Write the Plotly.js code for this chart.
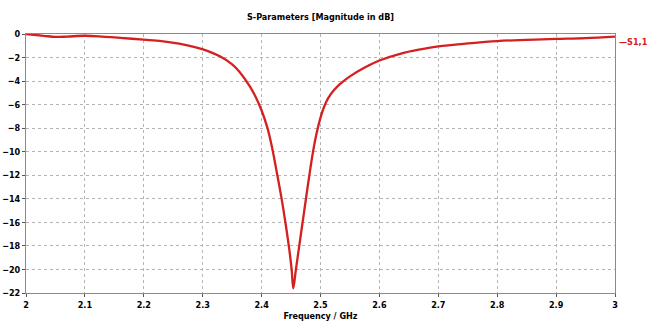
<!DOCTYPE html>
<html>
<head>
<meta charset="utf-8">
<script src="https://cdn.plot.ly/plotly-3.0.1.min.js"></script>
<style>html,body{margin:0;padding:0;background:#fff;}#chart{width:648px;height:325px;}</style>
</head>
<body>
<div id="chart"></div>
<script>
const freqGHz = [2.00,2.03,2.05,2.07,2.10,2.13,2.16,2.20,2.23,2.26,2.29,2.31,2.33,2.35,2.363,2.38,2.39,2.40,2.41,2.418,2.426,2.434,2.441,2.447,2.451,2.4538,2.458,2.4635,2.469,2.475,2.479,2.483,2.487,2.492,2.50,2.506,2.513,2.523,2.533,2.55,2.575,2.60,2.635,2.67,2.70,2.75,2.80,2.85,2.90,2.95,3.00];
const s11dB = [0,-0.15,-0.25,-0.22,-0.15,-0.22,-0.33,-0.48,-0.6,-0.82,-1.15,-1.47,-1.92,-2.58,-3.25,-4.45,-5.35,-6.5,-8.0,-9.7,-11.8,-14.0,-16.2,-18.3,-20.0,-21.6,-20.1,-18.15,-16.2,-14.1,-12.7,-11.35,-10.1,-8.75,-7.1,-6.2,-5.45,-4.75,-4.25,-3.6,-2.85,-2.25,-1.68,-1.3,-1.05,-0.8,-0.6,-0.5,-0.42,-0.35,-0.22];
const seriesName = "S1,1";
const chartTitle = "S-Parameters [Magnitude in dB]";
const xTitle = "Frequency / GHz";

const fontFam = "DejaVu Sans Condensed, DejaVu Sans, sans-serif";
const red = "#d42020";

const trace = {
  x: freqGHz, y: s11dB, type: "scatter", mode: "lines", name: seriesName,
  line: {color: red, width: 2.3, shape: "spline", smoothing: 1},
  showlegend: false
};

const layout = {
  width: 648, height: 325,
  margin: {l: 26, r: 33, t: 34, b: 32},
  paper_bgcolor: "#fff", plot_bgcolor: "#fff",
  font: {family: fontFam, size: 9, color: "#000", weight: "bold"},
  title: {text: chartTitle, font: {family: fontFam, size: 9, weight: "bold", color: "#000"},
          x: 0.5, xref: "paper", y: 1 - 17/325, yref: "container", yanchor: "middle"},
  xaxis: {
    range: [2, 3], dtick: 0.1, tick0: 2,
    showgrid: true, gridcolor: "#b4b4b4", griddash: "dot", gridwidth: 1,
    showline: true, linecolor: "#8a8a8a", linewidth: 1, mirror: true,
    ticks: "outside", ticklen: 3, tickcolor: "#555",
    tickfont: {family: fontFam, size: 9, weight: "bold"},
    zeroline: false,
    title: {text: xTitle, font: {family: fontFam, size: 9, weight: "bold"}, standoff: 3}
  },
  yaxis: {
    range: [-22, 0], dtick: 2,
    showgrid: true, gridcolor: "#b4b4b4", griddash: "dot", gridwidth: 1,
    showline: true, linecolor: "#8a8a8a", linewidth: 1, mirror: true,
    ticks: "outside", ticklen: 3, tickcolor: "#555",
    tickfont: {family: fontFam, size: 9, weight: "bold"},
    zeroline: false
  },
  annotations: [{
    text: "—" + seriesName, xref: "paper", yref: "paper", x: 1, y: 1 - 8/259,
    xanchor: "left", yanchor: "middle", xshift: 2, showarrow: false,
    font: {family: fontFam, size: 9, weight: "bold", color: red}
  }]
};

Plotly.newPlot("chart", [trace], layout, {staticPlot: true, displayModeBar: false});
</script>
</body>
</html>
